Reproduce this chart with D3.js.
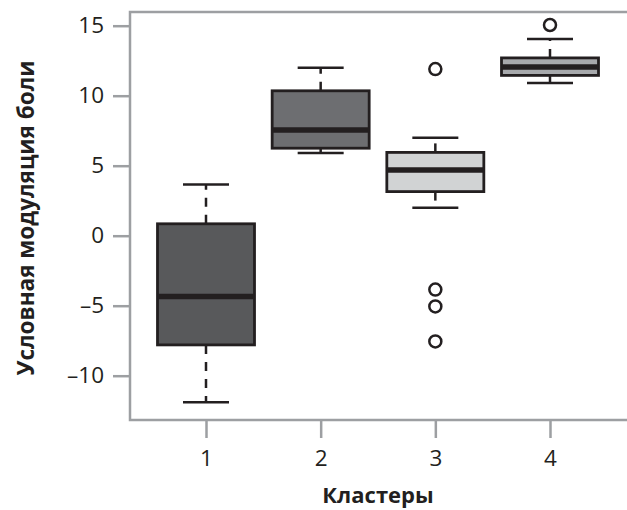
<!DOCTYPE html>
<html>
<head>
<meta charset="utf-8">
<script src="https://cdn.jsdelivr.net/npm/d3@7"></script>
<style>
body { margin: 0; background: #fff; }
text { font-family: "Open Sans", "Noto Sans", sans-serif; fill: #231f20; }
</style>
</head>
<body>
<svg width="627" height="510"></svg>
<script>
// ====== DATA ======
const clusters = [1, 2, 3, 4];
const lowWhisker = [-11.9, 5.9, 2.0, 10.9];
const q1 = [-7.8, 6.25, 3.15, 11.45];
const median = [-4.35, 7.55, 4.7, 12.05];
const q3 = [0.85, 10.35, 5.95, 12.7];
const highWhisker = [3.65, 12.0, 7.0, 14.05];
const outliers = [[], [], [11.9, -3.85, -5.05, -7.55], [15.05]];
const boxColors = ["#58595b", "#6d6e71", "#d1d3d4", "#a7a9ac"];
const yTicks = [-10, -5, 0, 5, 10, 15];

const boxes = clusters.map((c, i) => ({
    c: c, lo: lowWhisker[i], q1: q1[i], med: median[i], q3: q3[i], hi: highWhisker[i],
    out: outliers[i], color: boxColors[i]
}));

// ====== SCALES ======
const svg = d3.select("svg");
const plotLeft = 130, plotTop = 12, plotBottom = 420;
const xs = d3.scaleLinear().domain([1, 4]).range([206, 550]);
const ys = d3.scaleLinear().domain([-10, 15]).range([375.7, 25.7]);
const boxW = 97, capW = 46;
const ink = "#231f20", axisCol = "#9d9fa2";

// ====== FRAME & AXES ======
svg.append("path")
    .attr("d", "M627," + plotTop + "H" + plotLeft + "V" + plotBottom + "H627")
    .attr("fill", "none").attr("stroke", axisCol).attr("stroke-width", 2.5);

const yAxis = svg.append("g")
    .attr("transform", "translate(" + plotLeft + ",0)")
    .call(d3.axisLeft(ys).tickValues(yTicks).tickSize(17).tickPadding(9)
        .tickFormat(d => d < 0 ? "\u2013" + Math.abs(d) : String(d)));
const xAxis = svg.append("g")
    .attr("transform", "translate(0," + plotBottom + ")")
    .call(d3.axisBottom(xs).tickValues(clusters).tickFormat(d3.format("d")).tickSize(18).tickPadding(12));

[yAxis, xAxis].forEach(a => {
    a.select(".domain").remove();
    a.selectAll("line").attr("stroke", axisCol).attr("stroke-width", 2.5);
    a.selectAll("text").attr("font-size", 22.5).attr("font-family", "'Open Sans', sans-serif").attr("fill", ink);
});

// ====== BOXES ======
const g = svg.append("g").selectAll("g").data(boxes).enter().append("g");

// whiskers (dashed)
g.append("line")
    .attr("x1", d => xs(d.c)).attr("x2", d => xs(d.c))
    .attr("y1", d => ys(d.q3)).attr("y2", d => ys(d.hi))
    .attr("stroke", ink).attr("stroke-width", 2.5).attr("stroke-dasharray", "9,8");
g.append("line")
    .attr("x1", d => xs(d.c)).attr("x2", d => xs(d.c))
    .attr("y1", d => ys(d.q1)).attr("y2", d => ys(d.lo))
    .attr("stroke", ink).attr("stroke-width", 2.5).attr("stroke-dasharray", "9,8");
// caps
g.selectAll(".cap").data(d => [d.lo, d.hi].map(v => ({c: d.c, v: v}))).enter().append("line")
    .attr("x1", d => xs(d.c) - capW / 2).attr("x2", d => xs(d.c) + capW / 2)
    .attr("y1", d => ys(d.v)).attr("y2", d => ys(d.v))
    .attr("stroke", ink).attr("stroke-width", 2.5);
// box
g.append("rect")
    .attr("x", d => xs(d.c) - boxW / 2)
    .attr("y", d => ys(d.q3))
    .attr("width", boxW)
    .attr("height", d => ys(d.q1) - ys(d.q3))
    .attr("fill", d => d.color).attr("stroke", ink).attr("stroke-width", 2.8);
// median
g.append("line")
    .attr("x1", d => xs(d.c) - boxW / 2).attr("x2", d => xs(d.c) + boxW / 2)
    .attr("y1", d => ys(d.med)).attr("y2", d => ys(d.med))
    .attr("stroke", ink).attr("stroke-width", 5.5);
// outliers
g.selectAll("circle").data(d => d.out.map(v => ({c: d.c, v: v}))).enter().append("circle")
    .attr("cx", d => xs(d.c)).attr("cy", d => ys(d.v)).attr("r", 6)
    .attr("fill", "#fff").attr("stroke", ink).attr("stroke-width", 2.5);

// ====== LABELS ======
svg.append("text")
    .attr("x", 378).attr("y", 503)
    .attr("text-anchor", "middle").attr("font-size", 22).attr("font-weight", "bold")
    .text("Кластеры");
svg.append("text")
    .attr("transform", "translate(34,218)rotate(-90)")
    .attr("text-anchor", "middle").attr("font-size", 22.5).attr("font-weight", "bold")
    .text("Условная модуляция боли");
</script>
</body>
</html>
